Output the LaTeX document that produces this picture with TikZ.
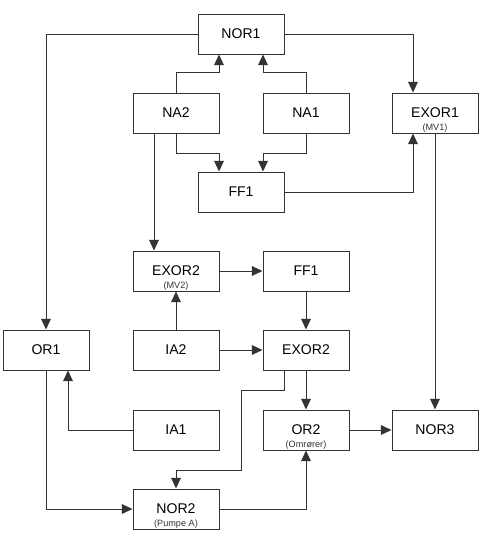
\documentclass[tikz,border=0pt]{standalone}
\usepackage{fontspec}
\setmainfont{Liberation Sans}
\usetikzlibrary{arrows.meta}
\begin{document}
\begin{tikzpicture}[>={Triangle[length=7.5pt,width=6.8pt]}, line width=0.7pt, draw=black!80,
  gate/.style={draw=black!80, minimum width=2.15cm, minimum height=1cm, inner sep=0pt, font=\fontsize{10}{12}\selectfont},
  sub/.style={label={[font=\fontsize{6.5}{7}\selectfont, inner sep=0pt, anchor=center, yshift=0.13cm, text=black!80]south:#1}}]
\useasboundingbox (0,0) rectangle (12.225,-13.45);
\node[gate] (nor1) at (6.025,-0.85) {NOR1};
\node[gate] (na2) at (4.4,-2.825) {NA2};
\node[gate] (na1) at (7.65,-2.825) {NA1};
\node[gate, sub={(MV1)}] (exor1) at (10.875,-2.825) {EXOR1};
\node[gate] (ffa) at (6.025,-4.8) {FF1};
\node[gate, sub={(MV2)}] (exora) at (4.4,-6.775) {EXOR2};
\node[gate] (ffb) at (7.65,-6.775) {FF1};
\node[gate] (or1) at (1.15,-8.75) {OR1};
\node[gate] (ia2) at (4.4,-8.75) {IA2};
\node[gate] (exorb) at (7.65,-8.75) {EXOR2};
\node[gate] (ia1) at (4.4,-10.75) {IA1};
\node[gate, sub={(Omrører)}] (or2) at (7.65,-10.75) {OR2};
\node[gate] (nor3) at (10.875,-10.75) {NOR3};
\node[gate, sub={(Pumpe A)}] (nor2) at (4.4,-12.725) {NOR2};
% top part
\draw[->] (nor1) -| (or1);
\draw[->] (nor1) -| ([xshift=-0.55cm]exor1.north);
\draw[->] (na2.north) -- ++(0,0.5) -| ([xshift=-0.55cm]nor1.south);
\draw[->] (na1.north) -- ++(0,0.5) -| ([xshift=0.55cm]nor1.south);
\draw[->] (na2.south) -- ++(0,-0.5) -| ([xshift=-0.55cm]ffa.north);
\draw[->] (na1.south) -- ++(0,-0.5) -| ([xshift=0.55cm]ffa.north);
\draw[->] ([xshift=-0.55cm]na2.south) -- ([xshift=-0.55cm]exora.north);
\draw[->] (ffa) -| ([xshift=-0.55cm]exor1.south);
\draw[->] (exor1) -- (nor3);
% middle part
\draw[->] (exora) -- (ffb);
\draw[->] (ia2) -- (exora);
\draw[->] (ffb) -- (exorb);
\draw[->] (ia2) -- (exorb);
\draw[->] (exorb) -- (or2);
\draw[->] ([xshift=-0.55cm]exorb.south) -- ++(0,-0.5) -- ++(-1.075,0) -- ++(0,-2) -| (nor2);
% bottom part
\draw[->] (ia1) -| ([xshift=0.55cm]or1.south);
\draw[->] (or1) |- (nor2);
\draw[->] (nor2) -| (or2);
\draw[->] (or2) -- (nor3);
\end{tikzpicture}
\end{document}
